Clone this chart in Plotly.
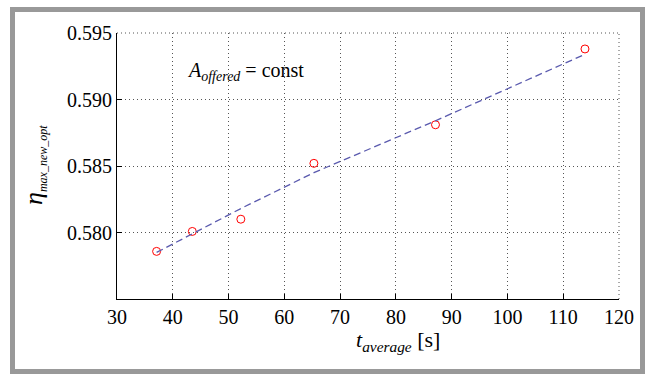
import plotly.graph_objects as go

# data
t_average = [37.1, 43.5, 52.2, 65.3, 87.1, 113.9]
eta_measured = [0.57858, 0.58008, 0.58100, 0.58520, 0.58810, 0.59380]
eta_fit = [0.5785, 0.5799, 0.5818, 0.5845, 0.5884, 0.5934]
x_ticks = [30, 40, 50, 60, 70, 80, 90, 100, 110, 120]
y_ticks = [0.580, 0.585, 0.590, 0.595]
y_tick_text = ["0.580", "0.585", "0.590", "0.595"]

W, H = 645, 374
ML, MR, MT, MB = 117, 26, 33, 75
PW, PH = W - ML - MR, H - MT - MB


def px(xp):
    return (xp - ML) / PW


def py(yp):
    return (H - MB - yp) / PH


FONT = "Times New Roman, Liberation Serif, DejaVu Serif, serif"
GRID = "#555555"
DOT = "1px,3px"

fig = go.Figure()
fig.add_trace(go.Scatter(
    x=t_average, y=eta_measured, mode="markers",
    marker=dict(symbol="circle-open", size=8, color="#ff0000",
                line=dict(width=1, color="#ff0000")),
    showlegend=False, hoverinfo="skip"))
fig.add_trace(go.Scatter(
    x=t_average, y=eta_fit, mode="lines",
    line=dict(color="#5a5aae", width=1.3, dash="7px,4px"),
    showlegend=False, hoverinfo="skip"))

axis_common = dict(
    showgrid=True, gridcolor=GRID, gridwidth=1, griddash=DOT,
    showline=True, linecolor="black", linewidth=1,
    ticks="inside", ticklen=5, tickcolor="black",
    tickfont=dict(family=FONT, size=20, color="black"),
    zeroline=False, mirror=False,
)

fig.update_xaxes(range=[30, 120], tickvals=x_ticks, **axis_common)
fig.update_yaxes(range=[0.575, 0.595], tickvals=y_ticks, ticktext=y_tick_text,
                 **axis_common)

# outer grey frame
fig.add_shape(type="rect", xref="paper", yref="paper",
              x0=px(12.5), x1=px(642.5), y0=py(371.5), y1=py(9.5),
              line=dict(color="#999999", width=5), layer="below")

# dotted top and right border lines (grid at range ends)
fig.add_shape(type="line", xref="paper", yref="paper", x0=0, x1=1, y0=1, y1=1,
              line=dict(color=GRID, width=1, dash=DOT))
fig.add_shape(type="line", xref="paper", yref="paper", x0=1, x1=1, y0=0, y1=1,
              line=dict(color=GRID, width=1, dash=DOT))

fig.add_annotation(
    xref="paper", yref="paper", x=px(34), y=py(165),
    text="<i>η</i><sub><i><span style='font-size:12px'>max_new_opt</span></i></sub>",
    textangle=-90, showarrow=False, xanchor="center", yanchor="middle",
    font=dict(family=FONT, size=26, color="black"))

fig.add_annotation(
    xref="paper", yref="paper", x=px(398), y=py(341),
    text="<i>t</i><sub><i>average</i></sub> [s]",
    showarrow=False, xanchor="center", yanchor="middle",
    font=dict(family=FONT, size=22, color="black"))

fig.add_annotation(
    xref="paper", yref="paper", x=px(185), y=py(71),
    text="<i>A</i><sub><i>offered</i></sub> = const",
    showarrow=False, xanchor="left", yanchor="middle",
    font=dict(family=FONT, size=20, color="black"))

fig.update_layout(
    width=W, height=H,
    margin=dict(l=ML, r=MR, t=MT, b=MB),
    paper_bgcolor="white", plot_bgcolor="white",
    font=dict(family=FONT, color="black"),
)

fig.write_html("out.html")
